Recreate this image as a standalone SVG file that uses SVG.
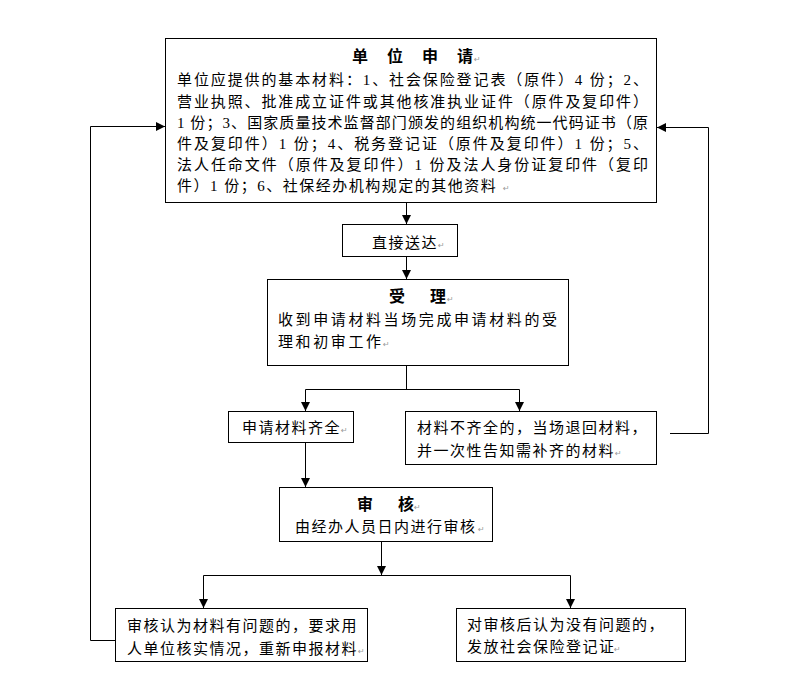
<svg xmlns="http://www.w3.org/2000/svg" width="805" height="680" viewBox="0 0 805 680">
<style>
text { font-family: "Liberation Serif", "Noto Sans CJK SC", serif; font-size: 15px; fill: #000; }
.b { font-weight: bold; font-size: 16px; }
.ls { letter-spacing: 1.5px; }
.ls2 { letter-spacing: 2.6px; }
.pm { font-family: "DejaVu Sans", sans-serif; font-size: 8px; fill: #999; }
.box { fill: #fff; stroke: #000; stroke-width: 1; }
.ln { fill: none; stroke: #000; stroke-width: 1; }
.ar { fill: none; stroke: #000; stroke-width: 1; marker-end: url(#arr); }
</style>
<defs>
<marker id="arr" markerUnits="userSpaceOnUse" markerWidth="9" markerHeight="9" viewBox="0 0 10 10" refX="10" refY="5" orient="auto">
<path d="M0,0 L10,5 L0,10 z" fill="#000"/>
</marker>
</defs>
<rect width="805" height="680" fill="#fff"/>
<g id="connectors">
<polyline class="ar" points="115,640.5 90.5,640.5 90.5,126.5 165,126.5"/>
<polyline class="ar" points="670,433.5 708.5,433.5 708.5,127.5 657,127.5"/>
<line class="ar" x1="406.5" y1="203" x2="406.5" y2="224"/>
<line class="ar" x1="406.5" y1="257" x2="406.5" y2="279"/>
<polyline class="ln" points="406.5,366 406.5,389.5"/>
<polyline class="ln" points="305.5,389.5 519.5,389.5"/>
<line class="ar" x1="305.5" y1="389.5" x2="305.5" y2="411"/>
<line class="ar" x1="519.5" y1="389.5" x2="519.5" y2="411"/>
<line class="ar" x1="305.5" y1="443" x2="305.5" y2="487"/>
<line class="ar" x1="381.5" y1="542" x2="381.5" y2="575"/>
<polyline class="ln" points="203.5,575.5 570.5,575.5"/>
<line class="ar" x1="203.5" y1="575.5" x2="203.5" y2="608"/>
<line class="ar" x1="570.5" y1="575.5" x2="570.5" y2="608"/>
</g>
<g id="n1">
<rect class="box" x="165.5" y="38.5" width="491" height="164"/>
<text class="b" x="352 368 387 403 422 438 457" y="62" xml:space="preserve">单 位 申 请</text>
<text class="pm" x="474" y="62">↵</text>
<text x="177" y="85" textLength="471" lengthAdjust="spacing">单位应提供的基本材料：1、社会保险登记表（原件）4 份；2、</text>
<text x="177" y="107" textLength="471" lengthAdjust="spacing">营业执照、批准成立证件或其他核准执业证件（原件及复印件）</text>
<text x="177" y="128" textLength="471" lengthAdjust="spacing">1 份；3、国家质量技术监督部门颁发的组织机构统一代码证书（原</text>
<text x="177" y="149" textLength="471" lengthAdjust="spacing">件及复印件）1 份；4、税务登记证（原件及复印件）1 份；5、</text>
<text x="177" y="170" textLength="471" lengthAdjust="spacing">法人任命文件（原件及复印件）1 份及法人身份证复印件（复印</text>
<text class="ls" x="177" y="191">件）1 份；6、社保经办机构规定的其他资料</text>
<text class="pm" x="503" y="191">↵</text>
</g>
<g id="n2">
<rect class="box" x="342.5" y="224.5" width="115" height="32"/>
<text class="ls" x="372" y="248">直接送达</text>
<text class="pm" x="438" y="248">↵</text>
</g>
<g id="n3">
<rect class="box" x="267.5" y="279.5" width="301" height="86"/>
<text class="b" x="389 409 430" y="302" xml:space="preserve">受 理</text>
<text class="pm" x="447" y="302">↵</text>
<text class="ls2" x="278" y="325">收到申请材料当场完成申请材料的受</text>
<text class="ls2" x="278" y="347">理和初审工作</text>
<text class="pm" x="383" y="347">↵</text>
</g>
<g id="n4">
<rect class="box" x="228.5" y="411.5" width="125" height="31"/>
<text class="ls" x="242" y="433">申请材料齐全</text>
<text class="pm" x="341" y="433">↵</text>
</g>
<g id="n5">
<rect class="box" x="405.5" y="411.5" width="251" height="53"/>
<text class="ls" x="417" y="433">材料不齐全的，当场退回材料，</text>
<text class="ls" x="417" y="456">并一次性告知需补齐的材料</text>
<text class="pm" x="615" y="456">↵</text>
</g>
<g id="n6">
<rect class="box" x="279.5" y="487.5" width="213" height="54"/>
<text class="b" x="357 377 398" y="510" xml:space="preserve">审 核</text>
<text class="pm" x="414" y="510">↵</text>
<text class="ls" x="295" y="532">由经办人员日内进行审核</text>
<text class="pm" x="478" y="532">↵</text>
</g>
<g id="n7">
<rect class="box" x="115.5" y="608.5" width="252" height="53"/>
<text class="ls" x="127" y="631">审核认为材料有问题的，要求用</text>
<text class="ls" x="127" y="654">人单位核实情况，重新申报材料</text>
<text class="pm" x="358" y="654">↵</text>
</g>
<g id="n8">
<rect class="box" x="456.5" y="608.5" width="229" height="53"/>
<text class="ls" x="467" y="630">对审核后认为没有问题的，</text>
<text class="ls" x="467" y="652">发放社会保险登记证</text>
<text class="pm" x="614" y="652">↵</text>
</g>
</svg>
